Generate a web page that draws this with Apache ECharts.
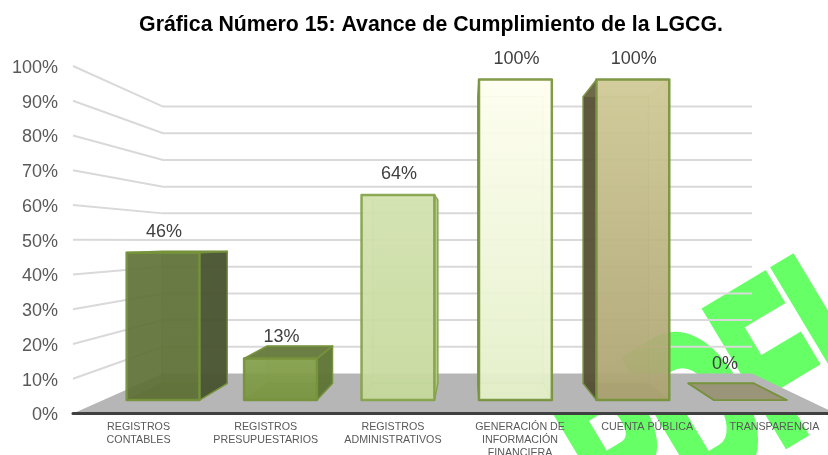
<!DOCTYPE html>
<html><head><meta charset="utf-8">
<style>html,body{margin:0;padding:0;background:#fff}#c{width:828px;height:455px}</style>
<script src="https://cdn.jsdelivr.net/npm/echarts@6/dist/echarts.min.js"></script></head>
<body><div id="c"></div>
<script>
const titleText = 'Gráfica Número 15: Avance de Cumplimiento de la LGCG.';
const categories = ['REGISTROS\nCONTABLES','REGISTROS\nPRESUPUESTARIOS','REGISTROS\nADMINISTRATIVOS','GENERACIÓN DE\nINFORMACIÓN\nFINANCIERA','CUENTA PÚBLICA','TRANSPARENCIA'];
const values = [46,13,64,100,100,0];
const tickValues = [10,20,30,40,50,60,70,80,90,100];
const watermark = 'PDFI';

const palette = [
  {top:'#62733a',bottom:'#5f7137',side:'#4a5433',lid:'#4f5f30',line:'#76923c'},
  {top:'#84a04c',bottom:'#7a9640',side:'#5f7536',lid:'#65793c',line:'#76923c'},
  {top:'#d3e2b0',bottom:'#c6d99c',side:'#b3c888',lid:'#d6e4b8',line:'#84a34a'},
  {top:'#fffff0',bottom:'#e3efc8',side:'#eef5cf',lid:'#fdfde6',line:'#76923c'},
  {top:'#d0c996',bottom:'#ada472',side:'#555036',lid:'#cfc896',line:'#76923c'},
  {top:'#9a9478',bottom:'#9a9478',side:'#9a9478',lid:'#9a9478',line:'#76923c'}
];
const depth = {insetL:90, insetR:84, rise:40, scale:0.768, near:0.335, far:0.755, from:0.2, to:0.82};

function projector(r){
  const bottom = r.y + r.height;
  return function(px,py,s){
    const bx = r.x + depth.insetL + (px-r.x)*(r.width-depth.insetL-depth.insetR)/r.width;
    const by = bottom - depth.rise - (bottom-py)*depth.scale;
    return [px+(bx-px)*s, py+(by-py)*s];
  };
}
function poly(pts,fill,stroke,lw,opacity){
  return {type:'polygon',shape:{points:pts},style:{fill:fill,stroke:stroke||null,lineWidth:lw||0,opacity:opacity==null?1:opacity,lineJoin:'round'}};
}
const chart = echarts.init(document.getElementById('c'),null,{renderer:'canvas'});
chart.setOption({
  animation:false,
  backgroundColor:'#ffffff',
  title:{text:titleText,left:426,top:10,textAlign:'center',textStyle:{fontFamily:'Liberation Sans',fontSize:21.3,fontWeight:'bold',color:'#000'}},
  graphic:[{type:'text',z:-10,silent:true,x:648,y:581,rotation:31*Math.PI/180,scaleX:0.6,
    style:{text:watermark,fill:'#66ff66',stroke:'#66ff66',lineWidth:14,lineJoin:'miter',font:'bold 218px "Liberation Sans"',textAlign:'left',textVerticalAlign:'bottom'}}],
  grid:{left:73,top:66,width:763,height:347.5,containLabel:false,outerBoundsMode:'none'},
  xAxis:{type:'category',data:categories,z:6,axisTick:{show:false},
    axisLine:{lineStyle:{color:'#404040',width:3}},
    axisLabel:{interval:0,margin:7,padding:[0,0,0,4],fontFamily:'Liberation Sans',fontSize:10.7,lineHeight:13,color:'#595959'}},
  yAxis:{type:'value',min:0,max:100,interval:10,axisLine:{show:false},axisTick:{show:false},splitLine:{show:false},
    axisLabel:{margin:15,formatter:v=>'{p|'+v+'%}',
      rich:{p:{padding:[4,0,0,0],fontFamily:'Liberation Sans',fontSize:18,color:'#595959'}}}},
  series:[
    {type:'custom',name:'grid',z:1,silent:true,data:tickValues.map(t=>[0,t]),clip:false,
     renderItem(params,api){
       const r=params.coordSys, p=projector(r), y=api.coord([0,api.value(1)])[1];
       return {type:'polyline',shape:{points:[[r.x,y],p(r.x,y,1),p(r.x+r.width,y,1)]},style:{fill:null,stroke:'#d9d9d9',lineWidth:2}};
     }},
    {type:'custom',name:'floor',z:2,silent:true,data:[[0,0]],clip:false,
     renderItem(params,api){
       const r=params.coordSys, p=projector(r), y=api.coord([0,0])[1];
       return poly([[r.x,y],p(r.x,y,1),p(r.x+r.width,y,1),[r.x+r.width,y]],'#b6b6b6');
     }},
    {type:'custom',name:'bars',z:3,silent:true,data:values.map((v,i)=>[i,v]),clip:false,
     renderItem(params,api){
       const r=params.coordSys, p=projector(r), i=api.value(0), v=api.value(1);
       const w=api.size([1,0])[0], c=api.coord([i,0]), top=api.coord([i,v])[1], base=c[1];
       const xa=c[0]-w/2+w*depth.from, xb=c[0]-w/2+w*depth.to, n=depth.near, f=depth.far, col=palette[i];
       const A=p(xa,base,n),B=p(xb,base,n),C=p(xb,top,n),D=p(xa,top,n);
       const E=p(xa,base,f),F=p(xb,base,f),G=p(xb,top,f),H=p(xa,top,f);
       const s=col.line;
       const leftOuter=H[0]<D[0]-0.5, rightOuter=G[0]>C[0]+0.5, lidOuter=G[1]<C[1]-0.5;
       const kids=[
         poly([E,F,G,H],col.bottom,s,1.2,0.35),
         poly([A,B,F,E],col.side,s,1.4,v===0?1:0.55),
         poly([A,D,H,E],col.side,s,1.4,leftOuter?0.95:0.12),
         poly([B,C,G,F],col.side,s,1.4,rightOuter?0.95:0.12),
         poly([D,C,G,H],col.lid,s,1.8,lidOuter?0.95:0.15)
       ];
       if(v>0){
         kids.push({type:'polygon',shape:{points:[A,B,C,D]},style:{stroke:s,lineWidth:2.5,lineJoin:'round',opacity:0.92,
           fill:new echarts.graphic.LinearGradient(0,0,0,1,[{offset:0,color:col.top},{offset:1,color:col.bottom}])}});
       }
       const anchor = v===0 ? [(E[0]+F[0])/2+4, E[1]-19] : [(A[0]+B[0])/2+1, D[1]-21];
       kids.push({type:'text',style:{text:v+'%',x:anchor[0],y:anchor[1],textAlign:'center',textVerticalAlign:'middle',font:'18px "Liberation Sans"',fill:'#404040'}});
       return {type:'group',children:kids};
     }}
  ]
});
</script></body></html>
